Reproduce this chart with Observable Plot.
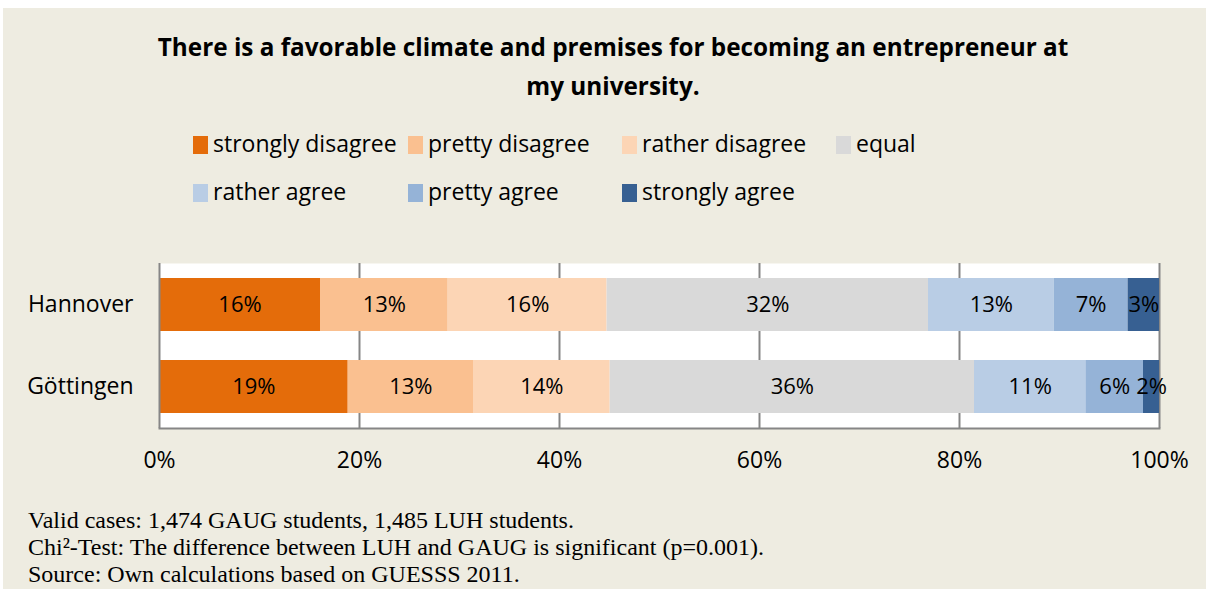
<!DOCTYPE html>
<html>
<head>
<meta charset="utf-8">
<script src="https://cdn.jsdelivr.net/npm/d3@7"></script>
<script src="https://cdn.jsdelivr.net/npm/@observablehq/plot@0.6"></script>
<style>
  html, body { margin: 0; padding: 0; background: #ffffff; }
  #page { position: relative; width: 1206px; height: 589px; overflow: hidden; background: #ffffff; }
  #bg { position: absolute; left: 3px; top: 8px; right: 0; bottom: 0; background: #EEECE1; }
  #title { position: absolute; left: 0; width: 1226px; top: 27px; text-align: center;
           font-family: "Open Sans", sans-serif; font-weight: bold; font-size: 24.3px; line-height: 39px; color: #000; }
  .leg { position: absolute; font-family: "Open Sans", sans-serif; font-size: 23px; color: #000; white-space: nowrap; }
  .leg span.sw { display: inline-block; width: 15px; height: 18px; margin-right: 5px; vertical-align: -2px; }
  #chart { position: absolute; left: 0; top: 240px; }
  #foot { position: absolute; left: 28px; top: 507px; font-family: "Liberation Serif", "Times New Roman", serif; font-size: 24px; line-height: 27px; color: #000; }
</style>
</head>
<body>
<div id="page">
  <div id="bg"></div>
  <div id="title">There is a favorable climate and premises for becoming an entrepreneur at<br>my university.</div>
  <div id="legend"></div>
  <div id="chart"></div>
  <div id="foot">Valid cases: 1,474 GAUG students, 1,485 LUH students.<br>Chi²-Test: The difference between LUH and GAUG is significant (p=0.001).<br>Source: Own calculations based on GUESSS 2011.</div>
</div>
<script>
const cities = ["Hannover", "Göttingen"];
const categories = ["strongly disagree", "pretty disagree", "rather disagree", "equal", "rather agree", "pretty agree", "strongly agree"];
const colors = ["#E46C0A", "#FAC090", "#FCD5B5", "#D9D9D9", "#B9CDE5", "#95B3D7", "#376092"];
const hannover = [16.1, 12.77, 15.89, 32.14, 12.56, 7.4, 3.14];
const goettingen = [18.87, 12.53, 13.67, 36.43, 11.14, 5.76, 1.6];
const xTicks = [0, 20, 40, 60, 80, 100];

const data = [];
[hannover, goettingen].forEach((vals, i) => {
  vals.forEach((v, j) => data.push({city: cities[i], category: categories[j], value: v}));
});

// legend (HTML)
const legendPos = [[193, 127], [408, 127], [622, 127], [836, 127], [193, 175], [408, 175], [622, 175]];
const legend = document.getElementById("legend");
categories.forEach((c, i) => {
  const d = document.createElement("div");
  d.className = "leg";
  d.style.left = legendPos[i][0] + "px";
  d.style.top = legendPos[i][1] + "px";
  d.innerHTML = `<span class="sw" style="background:${colors[i]}"></span>${c}`;
  legend.appendChild(d);
});

const chart = Plot.plot({
  width: 1206,
  height: 250,
  marginLeft: 159,
  marginRight: 47,
  marginTop: 23,
  marginBottom: 62,
  style: {background: "transparent", fontFamily: "Open Sans, sans-serif", fontSize: "23px", color: "#000"},
  x: {domain: [0, 100], ticks: xTicks, tickFormat: d => d + "%", tickSize: 0, tickPadding: 23, label: null},
  y: {domain: cities, paddingInner: 0.358, paddingOuter: 0.179, tickSize: 0, tickPadding: 26, label: null},
  color: {domain: categories, range: colors},
  marks: [
    Plot.frame({fill: "white", stroke: null}),
    Plot.ruleX(xTicks.filter(d => d > 0), {stroke: "#868686", strokeWidth: 2}),
    Plot.barX(data, Plot.stackX({x: "value", y: "city", fill: "category", order: null})),
    Plot.ruleX([0], {stroke: "#868686", strokeWidth: 2}),
    Plot.frame({anchor: "bottom", stroke: "#868686", strokeWidth: 2}),
    Plot.text(data, Plot.stackX({x: "value", y: "city", z: null, order: null, text: d => Math.round(d.value) + "%", fill: "#000", fontSize: 22}))
  ]
});
document.getElementById("chart").appendChild(chart);
</script>
</body>
</html>
